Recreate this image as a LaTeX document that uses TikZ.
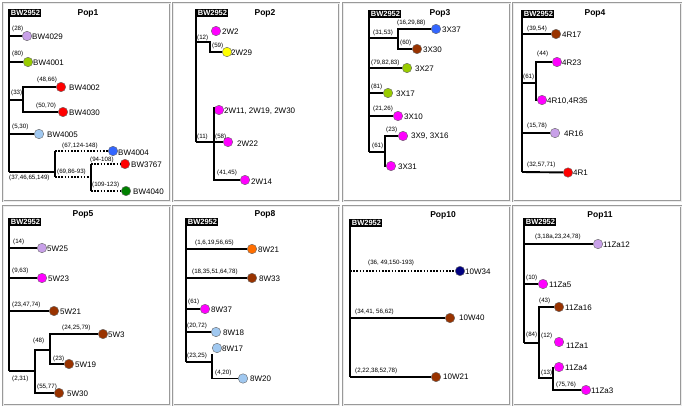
\documentclass[tikz,border=0pt]{standalone}
\usepackage{fontspec}
\setmainfont{Liberation Sans}
\definecolor{lilac}{RGB}{200,160,232}
\definecolor{ygreen}{RGB}{153,204,0}
\definecolor{red1}{RGB}{255,0,0}
\definecolor{lblue}{RGB}{160,200,240}
\definecolor{blue1}{RGB}{51,102,255}
\definecolor{dgreen}{RGB}{0,128,0}
\definecolor{magenta1}{RGB}{255,0,255}
\definecolor{yellow1}{RGB}{255,255,0}
\definecolor{brown1}{RGB}{153,51,0}
\definecolor{orange1}{RGB}{255,110,0}
\definecolor{navy1}{RGB}{0,0,128}
\tikzset{
 panel/.style={draw=gray!80, line width=0.8pt, double=gray!15, double distance=0.9pt},
 rootbox/.style={fill=black, text=white, font=\bfseries\fontsize{7.5}{8}\selectfont, inner sep=1.2pt, anchor=north west},
 ttl/.style={font=\bfseries\fontsize{8.5}{10}\selectfont, inner sep=0pt},
 leaf/.style={circle, draw=black!60, line width=0.4pt, minimum size=9.5pt, inner sep=0pt, fill=#1},
 lbl/.style={font=\fontsize{8}{9}\selectfont, anchor=west, inner sep=0pt},
 mut/.style={font=\fontsize{6.2}{7}\selectfont, anchor=west, inner sep=0pt},
 br/.style={line width=1.9pt},
 thinbr/.style={line width=1.2pt},
 dotbr/.style={line width=1.9pt, dash pattern=on 1.6pt off 1.6pt},
}
\begin{document}
\begin{tikzpicture}[x=1pt,y=-1pt]
\useasboundingbox (0,0) rectangle (685,408);
\fill[white] (0,0) rectangle (685,408);
% panels
\draw[panel] (3,3) rectangle (170,201);
\draw[panel] (173,3) rectangle (339,201);
\draw[panel] (343,3) rectangle (510,201);
\draw[panel] (513,3) rectangle (681,201);
\draw[panel] (3,206) rectangle (170,405);
\draw[panel] (173,206) rectangle (339,405);
\draw[panel] (343,206) rectangle (510,405);
\draw[panel] (513,206) rectangle (681,405);

% ---------------- Pop1
\coordinate (P1) at (9,9); \coordinate (P1b) at (9,172);
\draw[br] (P1) -- (P1b);
\node[rootbox] (r1) at (9.5,9) {BW2952};
\node[ttl] (h1) at (88,13) {Pop1};
\node[leaf=lilac] (n1a) at (27,36) {}; \node[lbl] (t1a) at (32,36.5) {BW4029}; \node[mut] (m1a) at (12,29) {(28)};
\draw[br] (n1a -| P1) -- (n1a);
\node[leaf=ygreen] (n1b) at (28,62) {}; \node[lbl] (t1b) at (33,62.5) {BW4001}; \node[mut] (m1b) at (12,54) {(80)};
\draw[br] (n1b -| P1) -- (n1b);
\coordinate (J1a) at (23,100);
\node[leaf=red1] (n1c) at (61,87) {}; \node[lbl] (t1c) at (69,87.5) {BW4002}; \node[mut] (m1c) at (37,80) {(48,66)};
\node[leaf=red1] (n1d) at (63,112) {}; \node[lbl] (t1d) at (69,112.5) {BW4030}; \node[mut] (m1d) at (36,106) {(50,70)};
\node[mut] (m1e) at (11,93) {(33)};
\draw[br] (J1a -| P1) -- (J1a);
\draw[br] (n1c) -- (n1c -| J1a) -- (n1d -| J1a) -- (n1d);
\node[leaf=lblue] (n1e) at (39,134) {}; \node[lbl] (t1e) at (47,134.5) {BW4005}; \node[mut] (m1f) at (12,127) {(5,30)};
\draw[br] (n1e -| P1) -- (n1e);
\coordinate (J1b) at (55,172);
\draw[br] (P1b) -- (J1b);
\node[mut] (m1g) at (9,178) {(37,46,65,149)};
\node[leaf=blue1] (n1f) at (113,151) {}; \node[lbl] (t1f) at (118,152.5) {BW4004}; \node[mut] (m1h) at (62,146) {(67,124-148)};
\coordinate (J1c) at (91,177);
\node[mut] (m1i) at (57,172) {(69,86-93)};
\draw[br] (n1f -| J1b) -- (J1c -| J1b);
\draw[dotbr] (n1f -| J1b) -- (n1f);
\draw[dotbr] (J1c -| J1b) -- (J1c);
\node[leaf=red1] (n1g) at (125,164) {}; \node[lbl] (t1g) at (131,164.5) {BW3767}; \node[mut] (m1j) at (90,160) {(94-108)};
\node[leaf=dgreen] (n1h) at (126,191) {}; \node[lbl] (t1h) at (133,191.5) {BW4040}; \node[mut] (m1k) at (92,185) {(109-123)};
\draw[br] (n1g -| J1c) -- (n1h -| J1c);
\draw[dotbr] (n1g -| J1c) -- (n1g);
\draw[dotbr] (n1h -| J1c) -- (n1h);

% ---------------- Pop2
\coordinate (P2) at (196,9); \coordinate (P2b) at (196,142);
\draw[br] (P2) -- (P2b);
\node[rootbox] (r2) at (196.5,9) {BW2952};
\node[ttl] (h2) at (265,13) {Pop2};
\node[leaf=magenta1] (n2a) at (216,31) {}; \node[lbl] (t2a) at (222,31.5) {2W2};
\coordinate (J2a) at (210,42);
\node[leaf=yellow1] (n2b) at (227,52) {}; \node[lbl] (t2b) at (231,52.5) {2W29};
\node[mut] (m2a) at (197,38) {(12)}; \node[mut] (m2b) at (212,46) {(59)};
\draw[br] (J2a -| P2) -- (J2a) -- (n2b -| J2a) -- (n2b);
\coordinate (J2t) at (214,107);
\node[leaf=magenta1] (n2c) at (219,110) {}; \node[lbl] (t2c) at (224,111) {2W11, 2W19, 2W30};
\node[leaf=magenta1] (n2d) at (228,142) {}; \node[lbl] (t2d) at (237,144) {2W22};
\node[mut] (m2c) at (197,137) {(11)}; \node[mut] (m2d) at (215,137) {(58)};
\draw[br] (P2b) -- (n2d);
\node[leaf=magenta1] (n2e) at (245,180) {}; \node[lbl] (t2e) at (251,182) {2W14};
\node[mut] (m2e) at (217,173) {(41,45)};
\draw[br] (J2t) -- (n2e -| J2t) -- (n2e);

% ---------------- Pop3
\coordinate (P3) at (369,10); \coordinate (P3b) at (369,152);
\draw[br] (P3) -- (P3b);
\node[rootbox] (r3) at (369.5,10) {BW2952};
\node[ttl] (h3) at (440,13) {Pop3};
\coordinate (J3a) at (398,38);
\node[leaf=blue1] (n3a) at (436,29) {}; \node[lbl] (t3a) at (442,29.5) {3X37};
\node[leaf=brown1] (n3b) at (417,49) {}; \node[lbl] (t3b) at (423,49.5) {3X30};
\node[mut] (m3a) at (373,33) {(31,53)}; \node[mut] (m3b) at (397,23) {(16,29,88)}; \node[mut] (m3c) at (400,43) {(60)};
\draw[br] (J3a -| P3) -- (J3a);
\draw[br] (n3a) -- (n3a -| J3a) -- (n3b -| J3a) -- (n3b);
\node[leaf=ygreen] (n3c) at (407,68) {}; \node[lbl] (t3c) at (415,69) {3X27}; \node[mut] (m3d) at (371,63) {(79,82,83)};
\draw[br] (n3c -| P3) -- (n3c);
\node[leaf=ygreen] (n3d) at (388,93) {}; \node[lbl] (t3d) at (396,93.5) {3X17}; \node[mut] (m3e) at (371,87) {(81)};
\draw[br] (n3d -| P3) -- (n3d);
\node[leaf=magenta1] (n3e) at (398,116) {}; \node[lbl] (t3e) at (404,116.5) {3X10}; \node[mut] (m3f) at (373,109) {(21,26)};
\draw[br] (n3e -| P3) -- (n3e);
\coordinate (J3b) at (385,152);
\draw[br] (P3b) -- (J3b);
\node[leaf=magenta1] (n3f) at (403,136) {}; \node[lbl] (t3f) at (411,136.5) {3X9, 3X16}; \node[mut] (m3g) at (386,130) {(23)};
\node[leaf=magenta1] (n3g) at (391,166) {}; \node[lbl] (t3g) at (398,167) {3X31}; \node[mut] (m3h) at (372,146) {(61)};
\draw[br] (n3f) -- (n3f -| J3b) -- (n3g -| J3b) -- (n3g);

% ---------------- Pop4
\coordinate (P4) at (522,10); \coordinate (P4b) at (522,172);
\draw[br] (P4) -- (P4b);
\node[rootbox] (r4) at (522.5,10) {BW2952};
\node[ttl] (h4) at (595,13) {Pop4};
\node[leaf=brown1] (n4a) at (556,34) {}; \node[lbl] (t4a) at (562,35) {4R17}; \node[mut] (m4a) at (527,29) {(39,54)};
\draw[br] (n4a -| P4) -- (n4a);
\coordinate (J4a) at (536,83);
\node[leaf=magenta1] (n4b) at (557,62) {}; \node[lbl] (t4b) at (562,63) {4R23}; \node[mut] (m4b) at (537,54) {(44)};
\node[leaf=magenta1] (n4c) at (542,100) {}; \node[lbl] (t4c) at (547,101) {4R10,4R35}; \node[mut] (m4c) at (523,77) {(61)};
\draw[br] (J4a -| P4) -- (J4a);
\draw[br] (n4b) -- (n4b -| J4a) -- (n4c -| J4a) -- (n4c);
\node[leaf=lilac] (n4d) at (555,133) {}; \node[lbl] (t4d) at (564,133.5) {4R16}; \node[mut] (m4d) at (527,126) {(15,78)};
\draw[br] (n4d -| P4) -- (n4d);
\node[leaf=red1] (n4e) at (568,172.5) {}; \node[lbl] (t4e) at (573,172.5) {4R1}; \node[mut] (m4e) at (527,165) {(32,57,71)};
\draw[br] (P4b) -- (n4e);

% ---------------- Pop5
\coordinate (P5) at (9,218); \coordinate (P5b) at (9,371);
\draw[br] (P5) -- (P5b);
\node[rootbox] (r5) at (9.5,218) {BW2952};
\node[ttl] (h5) at (83,214) {Pop5};
\node[leaf=lilac] (n5a) at (42,248) {}; \node[lbl] (t5a) at (47,248.5) {5W25}; \node[mut] (m5a) at (13,242) {(14)};
\draw[br] (n5a -| P5) -- (n5a);
\node[leaf=magenta1] (n5b) at (42,278) {}; \node[lbl] (t5b) at (48,279) {5W23}; \node[mut] (m5b) at (12,271) {(9,63)};
\draw[br] (n5b -| P5) -- (n5b);
\node[leaf=brown1] (n5c) at (54,311) {}; \node[lbl] (t5c) at (60,312) {5W21}; \node[mut] (m5c) at (12,305) {(23,47,74)};
\draw[br] (n5c -| P5) -- (n5c);
\coordinate (J5a) at (35,371); \coordinate (J5b) at (50,350);
\draw[br] (P5b) -- (J5a);
\node[leaf=brown1] (n5d) at (103,334) {}; \node[lbl] (t5d) at (108,335) {5W3}; \node[mut] (m5d) at (62,328) {(24,25,79)};
\node[leaf=brown1] (n5e) at (69,364) {}; \node[lbl] (t5e) at (75,365) {5W19}; \node[mut] (m5e) at (53,359) {(23)};
\node[leaf=brown1] (n5f) at (59,393) {}; \node[lbl] (t5f) at (67,394) {5W30}; \node[mut] (m5f) at (37,387) {(55,77)};
\node[mut] (m5g) at (33,341) {(48)}; \node[mut] (m5h) at (12,379) {(2,31)};
\draw[br] (J5b) -- (J5b -| J5a) -- (n5f -| J5a) -- (n5f);
\draw[br] (n5d) -- (n5d -| J5b) -- (n5e -| J5b) -- (n5e);

% ---------------- Pop8
\coordinate (P8) at (186,218); \coordinate (P8b) at (186,362);
\draw[br] (P8) -- (P8b);
\node[rootbox] (r8) at (186.5,218) {BW2952};
\node[ttl] (h8) at (265,214) {Pop8};
\node[leaf=orange1] (n8a) at (252,249) {}; \node[lbl] (t8a) at (258,250) {8W21}; \node[mut] (m8a) at (195,243) {(1,6,19,56,65)};
\draw[br] (n8a -| P8) -- (n8a);
\node[leaf=brown1] (n8b) at (252,278) {}; \node[lbl] (t8b) at (259,279) {8W33}; \node[mut] (m8b) at (192,272) {(18,35,51,64,78)};
\draw[br] (n8b -| P8) -- (n8b);
\node[leaf=magenta1] (n8c) at (205,309) {}; \node[lbl] (t8c) at (211,310) {8W37}; \node[mut] (m8c) at (188,302) {(61)};
\draw[br] (n8c -| P8) -- (n8c);
\node[leaf=lblue] (n8d) at (216,332) {}; \node[lbl] (t8d) at (223,333) {8W18}; \node[mut] (m8d) at (187,326) {(20,72)};
\draw[br] (n8d -| P8) -- (n8d);
\node[leaf=lblue] (n8e) at (217,348) {}; \node[lbl] (t8e) at (222,348.5) {8W17};
\coordinate (J8a) at (212,362); \coordinate (J8t) at (212,354);
\draw[br] (P8b) -- (J8a);
\node[leaf=lblue] (n8f) at (243,378.5) {}; \node[lbl] (t8f) at (250,379) {8W20};
\node[mut] (m8e) at (187,356) {(23,25)}; \node[mut] (m8f) at (215,373) {(4,20)};
\draw[br] (J8t) -- (n8f -| J8t) -- (n8f);

% ---------------- Pop10
\coordinate (P10) at (350,219); \coordinate (P10b) at (350,377);
\draw[thinbr] (P10) -- (P10b);
\node[rootbox] (r10) at (350.5,219) {BW2952};
\node[ttl] (h10) at (443,215) {Pop10};
\node[leaf=navy1] (n10a) at (460,271) {}; \node[lbl] (t10a) at (465,271.5) {10W34}; \node[mut] (m10a) at (368,263) {(36, 49,150-193)};
\draw[dotbr] (n10a -| P10) -- (n10a);
\node[leaf=brown1] (n10b) at (450,318) {}; \node[lbl] (t10b) at (459,318) {10W40}; \node[mut] (m10b) at (355,312) {(34,41, 56,62)};
\draw[thinbr] (n10b -| P10) -- (n10b);
\node[leaf=brown1] (n10c) at (436,377) {}; \node[lbl] (t10c) at (443,377) {10W21}; \node[mut] (m10c) at (355,371) {(2,22,38,52,78)};
\draw[thinbr] (P10b) -- (n10c);

% ---------------- Pop11
\coordinate (P11) at (524,218); \coordinate (P11b) at (524,343);
\draw[br] (P11) -- (P11b);
\node[rootbox] (r11) at (524.5,218) {BW2952};
\node[ttl] (h11) at (600,215) {Pop11};
\node[leaf=lilac] (n11a) at (598,244) {}; \node[lbl] (t11a) at (603,245) {11Za12}; \node[mut] (m11a) at (535,237) {(3,18a,23,24,78)};
\draw[thinbr] (n11a -| P11) -- (n11a);
\node[leaf=magenta1] (n11b) at (543,284) {}; \node[lbl] (t11b) at (549,284.5) {11Za5}; \node[mut] (m11b) at (526,278) {(10)};
\draw[br] (n11b -| P11) -- (n11b);
\coordinate (J11a) at (539,343); \coordinate (J11b) at (553,378);
\draw[br] (P11b) -- (J11a);
\node[leaf=brown1] (n11c) at (559,307) {}; \node[lbl] (t11c) at (565,307.5) {11Za16}; \node[mut] (m11c) at (539,301) {(43)};
\node[mut] (m11d) at (526,335) {(84)};
\node[leaf=magenta1] (n11d) at (559,342) {}; \node[lbl] (t11d) at (566,346) {11Za1}; \node[mut] (m11e) at (541,336) {(12)};
\draw[br] (n11c) -- (n11c -| J11a) -- (J11b -| J11a) -- (J11b);
\node[leaf=magenta1] (n11e) at (559,367) {}; \node[lbl] (t11e) at (565,367.5) {11Za4};
\node[leaf=magenta1] (n11f) at (586,390) {}; \node[lbl] (t11f) at (591,391) {11Za3};
\node[mut] (m11f) at (541,373) {(13)}; \node[mut] (m11g) at (556,385) {(75,76)};
\draw[br] (n11e -| J11b) -- (n11f -| J11b) -- (n11f);
\end{tikzpicture}
\end{document}
